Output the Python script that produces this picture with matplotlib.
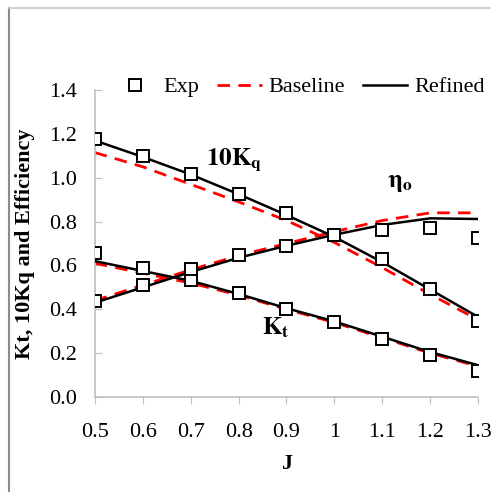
import matplotlib
matplotlib.use("Agg")
import matplotlib.pyplot as plt
from matplotlib.lines import Line2D

plt.rcParams['font.family'] = ['Liberation Serif', 'DejaVu Serif']
plt.rcParams['mathtext.fontset'] = 'stix'

#========================================================================================
J = [0.5, 0.6, 0.7, 0.8, 0.9, 1.0, 1.1, 1.2, 1.3]

# experiment
kt_exp   = [0.655, 0.587, 0.533, 0.473, 0.400, 0.340, 0.264, 0.190, 0.119]
kq10_exp = [1.176, 1.100, 1.017, 0.926, 0.837, 0.739, 0.628, 0.491, 0.348]
eta_exp  = [0.439, 0.510, 0.582, 0.650, 0.689, 0.739, 0.761, 0.769, 0.724]

# baseline model
kt_base   = [0.610, 0.565, 0.520, 0.465, 0.400, 0.340, 0.270, 0.200, 0.140]
kq10_base = [1.115, 1.050, 0.970, 0.890, 0.805, 0.705, 0.590, 0.468, 0.352]
eta_base  = [0.440, 0.510, 0.580, 0.645, 0.700, 0.754, 0.805, 0.840, 0.840]

# refined model
kt_ref   = [0.620, 0.575, 0.530, 0.470, 0.405, 0.345, 0.275, 0.205, 0.145]
kq10_ref = [1.170, 1.095, 1.015, 0.925, 0.830, 0.730, 0.615, 0.490, 0.365]
eta_ref  = [0.430, 0.500, 0.570, 0.635, 0.690, 0.740, 0.785, 0.815, 0.812]

#========================================================================================
fig = plt.figure(figsize=(4.91, 4.92), dpi=100)
ax = fig.add_axes([0.193, 0.193, 0.781, 0.624])

for b, r in [(kq10_base, kq10_ref), (kt_base, kt_ref), (eta_base, eta_ref)]:
    ax.plot(J, b, color='#ff0000', ls=(0, (4.5, 3)), lw=2.0, zorder=2)
    ax.plot(J, r, color='black', ls='-', lw=1.8, zorder=3)
for e in [kq10_exp, kt_exp, eta_exp]:
    ax.plot(J, e, ls='none', marker='s', ms=9, mfc='white', mec='black', mew=1.4, zorder=4)

ax.set_xlim(0.5, 1.3)
ax.set_ylim(0.0, 1.4)
ax.set_xticks(J)
ax.set_xticklabels(['0.5', '0.6', '0.7', '0.8', '0.9', '1', '1.1', '1.2', '1.3'])
ax.set_yticks([0.0, 0.2, 0.4, 0.6, 0.8, 1.0, 1.2, 1.4])
ax.set_yticklabels(['%.1f' % v for v in ax.get_yticks()])
ax.tick_params(axis='y', direction='in', length=5, color='#bfbfbf', labelsize=16, pad=13)
ax.tick_params(axis='x', direction='out', length=5, color='#bfbfbf', labelsize=16, pad=14)
for s in ['top', 'right']:
    ax.spines[s].set_visible(False)
for s in ['left', 'bottom']:
    ax.spines[s].set_color('#bfbfbf')
    ax.spines[s].set_linewidth(1.2)

ax.set_xlabel('J', fontsize=16, fontweight='bold', labelpad=8)
ax.set_ylabel('Kt, 10Kq and Efficiency', fontsize=16, fontweight='bold', labelpad=10)

ax.text(0.79, 1.08, r'$\mathbf{10K_q}$', fontsize=18, ha='center', va='center')
ax.text(1.137, 0.975, r'$\mathbf{\eta_o}$', fontsize=18, ha='center', va='center')
ax.text(0.878, 0.315, r'$\mathbf{K_t}$', fontsize=18, ha='center', va='center')

handles = [
    Line2D([], [], ls='none', marker='s', ms=9, mfc='white', mec='black', mew=1.4),
    Line2D([], [], color='#ff0000', ls=(0, (4.5, 3)), lw=2.0),
    Line2D([], [], color='black', lw=1.8),
]
fig.legend(handles, ['Exp', 'Baseline', 'Refined'], loc='center', ncol=3,
           bbox_to_anchor=(0.608, 0.823), frameon=False, fontsize=16,
           handlelength=2.0, columnspacing=0.8, handletextpad=0.3,
           borderaxespad=0.0, borderpad=0.0)

# outer frame lines
fig.add_artist(Line2D([0.019, 0.019], [0.0, 0.984], transform=fig.transFigure,
                      color='#8c8c8c', lw=1.5))
fig.add_artist(Line2D([0.019, 1.0], [0.984, 0.984], transform=fig.transFigure,
                      color='#c8c8c8', lw=1.2))

fig.savefig('out.png', dpi=100)
